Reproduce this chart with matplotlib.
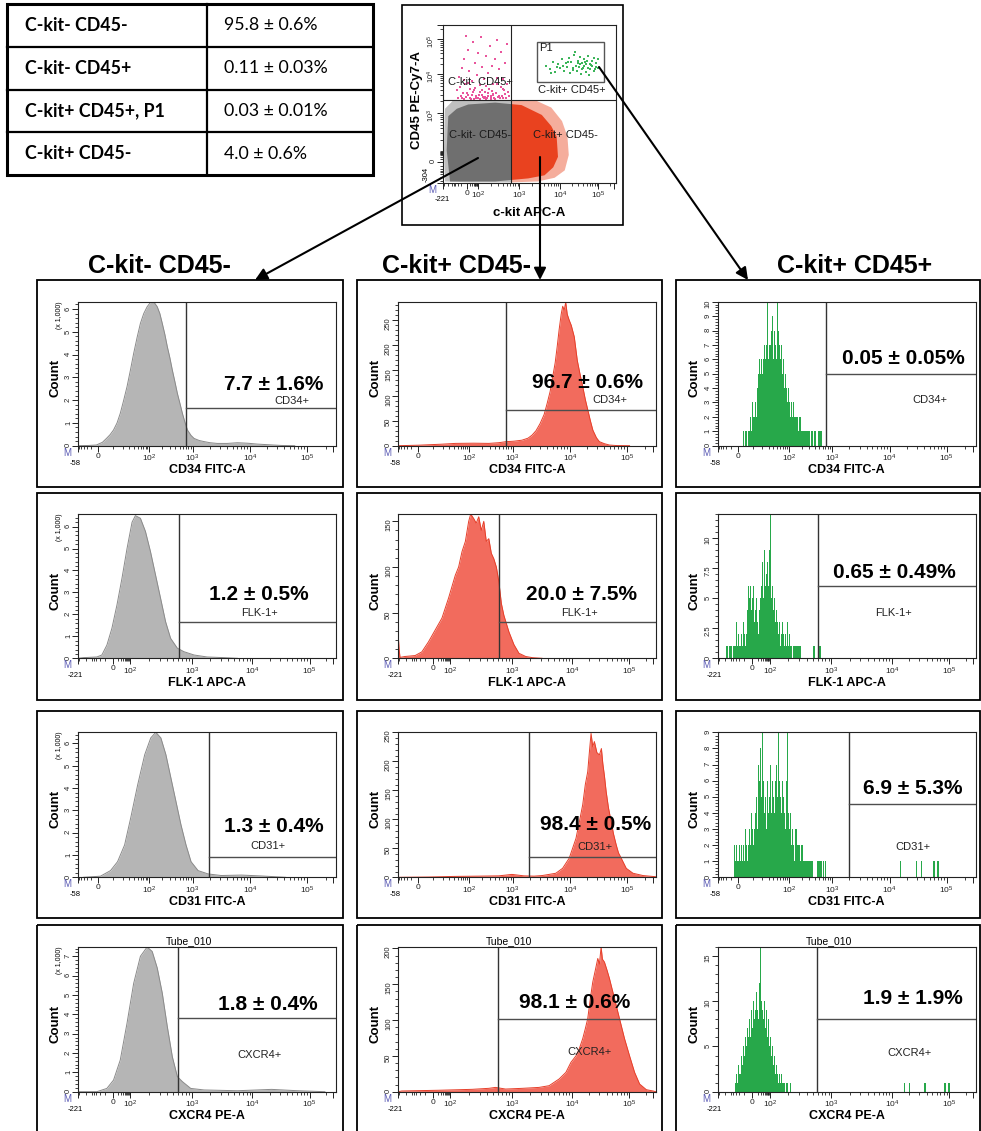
import numpy as np
import matplotlib
matplotlib.use("Agg")
import matplotlib.pyplot as plt
import matplotlib.transforms as mtransforms
from matplotlib.patches import Rectangle, Polygon, FancyArrowPatch
from matplotlib.ticker import MultipleLocator, FormatStrFormatter

plt.rcParams["font.family"] = ["Liberation Sans", "DejaVu Sans"]
plt.rcParams["mathtext.fontset"] = "custom"
plt.rcParams["mathtext.rm"] = "Liberation Sans"
plt.rcParams["mathtext.it"] = "Liberation Sans:italic"
plt.rcParams["mathtext.bf"] = "Liberation Sans:bold"

W, H = 981, 1131

# ---------------- dados ----------------
# Tabela de frequências das populações
tab_rotulos = ["C-kit- CD45-", "C-kit- CD45+", "C-kit+ CD45+, P1", "C-kit+ CD45-"]
tab_valores = ["95.8 ± 0.6%", "0.11 ± 0.03%", "0.03 ± 0.01%", "4.0 ± 0.6%"]

# Escalas biexponenciais: valor de fluorescência -> canal de exibição (0-256)
ESC_58 = {"v": [-58, 0, 1e2, 1e3, 1e4, 1e5, 262144],
          "c": [0, 20, 70.5, 113.6, 170.6, 227.2, 253],
          "neg": [-50, -40, -30, -20, -10], "min": "-58"}
ESC_221 = {"v": [-221, 0, 1e2, 1e3, 1e4, 1e5, 262144],
           "c": [0, 34.5, 51.6, 112.8, 173, 229.8, 253],
           "neg": [-200, -100, -50, -40, -30, -20, -10], "min": "-221"}
ESC_304 = {"v": [-304, 0, 1e2, 1e3, 1e4, 1e5, 262144],
           "c": [0, 34, 51, 113, 176, 233, 256],
           "neg": [-200, -100, -50, -40, -30, -20, -10], "min": "-304"}

# Dot plot c-kit x CD45 (em canais)
nuvem_halo_x = [1, 2.5, 15, 40, 70, 100, 130, 160, 176, 184, 186, 180, 165, 140, 100, 40, 2.5]
nuvem_halo_y = [53, 120, 134, 140, 141, 141, 137, 122, 100, 75, 45, 20, 8, 2, 0.5, 0.5, 2]
nuvem_nucleo_x = [5, 7.4, 20, 37, 77, 116, 146, 160, 168, 170, 163, 150, 126, 77, 10]
nuvem_nucleo_y = [53, 108, 120, 127, 130, 126, 110, 92, 75, 42, 25, 12, 7, 2, 2]
rosa_x = [20, 24, 27, 30, 32, 35, 36, 38, 40, 42, 44, 45, 47, 48, 50, 52, 53, 55, 56, 58,
          59, 60, 62, 63, 65, 66, 68, 69, 70, 72, 73, 75, 76, 78, 79, 80, 82, 83, 85, 86,
          88, 89, 91, 92, 94, 95, 97, 33, 28, 61, 74, 57, 46, 67, 84, 71, 51, 43, 39, 90,
          22, 26, 29, 31, 34, 37, 41, 44, 49, 54, 58, 62, 64, 67, 70, 73, 77, 81, 87, 93,
          25, 36, 47, 55, 63, 72, 80, 88, 96, 30]
rosa_y = [150, 172, 138, 200, 160, 145, 215, 182, 137, 165, 228, 150, 195, 140, 175, 210, 143, 158, 236, 188,
          139, 168, 147, 205, 137, 178, 152, 222, 141, 190, 160, 138, 200, 146, 170, 232, 140, 185, 155, 212,
          138, 168, 195, 144, 160, 225, 140, 238, 186, 137, 144, 150, 136, 140, 137, 136, 138, 142, 152, 150,
          137, 141, 146, 136, 139, 143, 136, 147, 138, 136, 143, 139, 136, 145, 137, 142, 136, 139, 141, 137,
          156, 162, 153, 148, 157, 149, 161, 152, 147, 166]
p1_x = [152, 158, 162, 166, 170, 173, 176, 179, 182, 184, 186, 188, 190, 192, 194, 196, 198, 200, 201, 203,
        205, 206, 208, 209, 211, 212, 214, 215, 217, 218, 220, 221, 223, 224, 226, 227, 229, 230, 204, 195,
        185, 178, 168, 160, 216, 199, 207, 213, 219, 225, 210, 202, 193]
p1_y = [190, 185, 196, 180, 192, 186, 200, 182, 194, 188, 203, 178, 196, 186, 207, 190, 182, 198, 188, 204,
        184, 195, 190, 200, 180, 193, 186, 206, 192, 184, 198, 189, 203, 182, 195, 188, 200, 186, 176, 212,
        196, 190, 188, 178, 175, 194, 187, 197, 191, 185, 196, 192, 183]
quad_x, quad_y = 100.4, 134
p1_caixa = (138.4, 164, 238.7, 229)

# Histogramas (canal, contagem); cinza em milhares de eventos
cd34_cinza_c = [0, 10, 18, 24, 28, 31.5, 35, 38.5, 41.7, 45, 48.4, 51.7, 55, 58.4, 61.7, 65, 68.4, 71, 73.3, 75.5,
                78.4, 81, 83.4, 86, 88.4, 91, 93.4, 96, 98.4, 101, 103.4, 106, 108.4, 112, 115, 120, 125, 131, 138, 148,
                158, 168, 178, 190, 202, 215]
cd34_cinza_n = [0, 0.01, 0.03, 0.15, 0.32, 0.48, 0.69, 1.0, 1.42, 1.98, 2.59, 3.3, 4.05, 4.75, 5.37, 5.8, 6.1, 6.25, 6.32, 6.28,
                6.1, 5.8, 5.37, 4.88, 4.35, 3.85, 3.32, 2.8, 2.3, 1.85, 1.42, 1.02, 0.69, 0.45, 0.32, 0.23, 0.18, 0.13, 0.10, 0.10,
                0.13, 0.11, 0.07, 0.04, 0.01, 0]
cd34_verm_c = [0, 20, 43, 57, 75, 90, 100, 107, 115, 123, 129, 133, 137, 141, 145, 148, 151, 153, 156, 158,
               160, 162, 163.5, 165, 166.5, 168, 170, 172, 175, 178, 181, 183.5, 186, 188.5, 191, 193.5, 197, 200, 205, 210,
               217, 230]
cd34_verm_n = [0, 1, 3, 4.6, 5, 4.6, 6, 8, 9, 11, 15, 21, 30, 44, 62, 84, 108, 131, 165, 197,
               232, 262, 278, 270, 286, 262, 250, 240, 217, 170, 140, 117, 92, 71, 50, 31, 16, 8, 4, 1.3,
               0.3, 0]
cd34_verde_ini = 25
cd34_verde_n = [1, 0, 1, 1, 0, 1, 1,
                2, 1, 3, 2, 2, 3, 2,
                4, 5, 6, 5, 6, 5,
                6, 7, 6, 7, 10, 6, 7,
                7, 8, 9, 6, 8, 7, 6, 10,
                8, 7, 6, 7, 5, 6, 4, 5,
                4, 3, 4, 3, 2, 3, 2, 3, 2,
                1, 2, 1, 1, 2, 1, 1, 0, 1, 1,
                0, 1, 0, 1, 0, 0, 1, 0, 0, 1, 0, 0, 0, 1, 0, 1]

flk_cinza_c = [0, 5, 18.4, 23.4, 28.4, 33.4, 38.4, 43.4, 48.4, 53.4, 56.7, 61.7, 66.7, 71.7, 76.7, 81.7, 86.7, 91.7,
               98.4, 105, 115, 128, 145, 158]
flk_cinza_n = [0, 0.03, 0.06, 0.15, 0.6, 1.37, 2.43, 3.65, 5.0, 6.2, 6.5, 6.38, 5.78, 4.86, 3.8, 2.74, 1.67, 0.91,
               0.46, 0.3, 0.15, 0.06, 0.03, 0]
flk_verm_c = [0, 0.8, 1.7, 6.7, 16.7, 23.4, 30, 36.7, 43.4, 50, 56.7, 60, 63.4, 66.7, 70, 72, 75, 77.5, 80, 82.5,
              85, 87.5, 90, 92.5, 95, 97.5, 100, 102.5, 105, 110, 115, 120, 126.7, 133.4, 143]
flk_verm_n = [24, 10, 1, 2, 3, 7, 18, 31, 44, 66, 91, 100, 117, 128, 150, 158, 153, 148, 155, 140,
              150, 128, 131, 115, 109, 100, 84, 60, 47, 29, 15, 5.5, 2, 0.7, 0]
flk_verde_ini = 8
flk_verde_n = [1, 1, 0, 1, 1, 1, 0, 1,
               1, 1, 3, 1, 2, 1, 1,
               2, 1, 3, 2, 1, 2,
               4, 6, 5, 6, 4, 5, 6,
               3, 4, 5, 3, 2, 4, 5,
               6, 8, 5, 9, 6, 7, 8, 6,
               9, 12, 5, 6, 4, 5, 3,
               4, 3, 2, 3, 1, 2, 3,
               2, 1, 2, 1, 3, 1, 2, 1,
               1, 0, 1, 1, 0, 1, 0, 1, 1, 0,
               0, 0, 0, 0, 0, 0, 0, 0, 0, 0, 0, 0, 1, 0, 0, 0, 0, 0, 1]

cd31_cinza_c = [5, 22, 32, 39, 46, 52, 59, 66, 72, 77, 82, 87, 92, 97, 102, 107, 112, 119, 129, 142, 162, 182, 206]
cd31_cinza_n = [0, 0.05, 0.3, 0.7, 1.45, 2.65, 4.15, 5.5, 6.25, 6.5, 6.25, 5.5, 4.45, 3.4, 2.35, 1.45, 0.7, 0.3,
                0.15, 0.08, 0.1, 0.06, 0]
cd31_verm_c = [0, 30, 55, 80, 100, 113, 125, 135, 143, 150, 156.7, 163.4, 170, 176.7, 180, 183.4, 186, 188.4, 190, 191.7,
               193.4, 195, 197.5, 200, 202, 203.4, 205, 206.7, 209, 211.7, 214, 216.7, 219, 221.7, 226.7, 233.4, 243.4, 256]
cd31_verm_n = [0, 0.5, 1.5, 2, 2.5, 5, 2.5, 2, 3, 5, 7, 15.5, 33, 67, 95, 125, 160, 182, 215, 248,
               225, 234, 215, 211, 222, 196, 175, 148, 120, 96, 75, 56, 42, 33, 15.5, 7, 3, 1]
cd31_verde_ini = 16
cd31_verde_n = [2, 1, 2, 1, 1, 2, 1,
                2, 1, 2, 1, 3, 2, 1,
                2, 3, 2, 4, 3, 2, 3,
                4, 5, 3, 7, 6, 8, 5,
                9, 6, 4, 5, 3, 6, 4,
                5, 7, 4, 6, 5, 4, 6,
                7, 5, 9, 6, 5, 4, 6,
                5, 4, 3, 6, 9, 4, 3,
                4, 2, 3, 2, 1, 3, 2,
                1, 2, 1, 1, 2, 1, 1,
                1, 0, 1, 1, 0, 1, 0, 1,
                0, 0, 0, 0, 0, 1, 0, 1, 1, 0, 1, 0, 1, 0]
cd31_verde_extra_c = [181, 197, 202, 214, 218]
cd31_verde_extra_n = [1, 1, 1, 1, 1]

cxcr4_cinza_c = [0, 18.4, 28.4, 35, 41.7, 48.4, 55, 61.7, 68.4, 73.4, 78.4, 83.4, 88.4, 93.4, 98.4, 103.4, 111.7,
                 125, 158, 192, 218, 245]
cxcr4_cinza_n = [0, 0, 0.17, 0.6, 1.64, 3.54, 5.6, 7.0, 7.48, 7.25, 6.4, 5.1, 3.37, 1.81, 0.78, 0.52, 0.17,
                 0.09, 0.05, 0.12, 0.05, 0]
cxcr4_verm_c = [0, 3.4, 40, 73.4, 90, 96.7, 106.7, 123.4, 140, 150, 160, 166.7, 171.7, 176.7, 180, 183.4, 186, 188.4,
                191, 193.4, 196, 198.4, 200, 201.7, 203, 205, 207.5, 210, 215, 220, 225, 230, 235, 240, 246.7, 253.4, 256]
cxcr4_verm_n = [0, 1, 2, 3.3, 4.7, 6, 3.7, 4.7, 6, 8.4, 17.8, 27, 41, 50, 60, 74, 88, 102,
                130, 153, 170, 186, 178, 202, 185, 181, 170, 158, 130, 102, 74, 50, 27, 10.7, 2.8, 1, 0]
cxcr4_verde_ini = 17
cxcr4_verde_n = [1, 2, 1, 3, 2, 2, 4,
                 3, 5, 4, 6, 5, 7, 6,
                 8, 6, 9, 7, 10, 8, 9,
                 11, 9, 8, 12, 16, 10, 9,
                 8, 10, 7, 9, 6, 8, 5,
                 6, 4, 5, 3, 4, 2, 3,
                 2, 1, 2, 1, 2, 1, 1,
                 1, 0, 1, 1, 0, 0, 1]
cxcr4_verde_extra_c = [185, 190, 205, 225, 229]
cxcr4_verde_extra_n = [1, 1, 1, 1, 1]

# Gates (canal do limite, altura da barra) por linha e coluna
gate_x = [107, 100, 130, 99]
gate_y = [[1.64, 72, 5], [1.64, 39.4, 6], [0.9, 34.5, 4.54], [3.8, 101, 8]]

pct_textos = [["7.7 ± 1.6%", "96.7 ± 0.6%", "0.05 ± 0.05%"],
              ["1.2 ± 0.5%", "20.0 ± 7.5%", "0.65 ± 0.49%"],
              ["1.3 ± 0.4%", "98.4 ± 0.5%", "6.9 ± 5.3%"],
              ["1.8 ± 0.4%", "98.1 ± 0.6%", "1.9 ± 1.9%"]]
marcadores = ["CD34+", "FLK-1+", "CD31+", "CXCR4+"]
canais = ["CD34 FITC-A", "FLK-1 APC-A", "CD31 FITC-A", "CXCR4 PE-A"]
populacoes = ["C-kit- CD45-", "C-kit+ CD45-", "C-kit+ CD45+"]

# ---------------- layout (pixels) ----------------
COLS_AX = [(78.3, 336.0), (398.3, 655.7), (717.7, 975.7)]
ROWS_AX = [(301.7, 445.7), (514.3, 658.3), (732.3, 877.3), (947.0, 1091.7)]
COLS_BOX = [(37.3, 343.3), (356.7, 662.3), (676.0, 979.5)]
ROWS_BOX = [(280.0, 487.3), (493.3, 700.0), (711.0, 918.3), (925.0, 1145.0)]
ESCALAS = [ESC_58, ESC_221, ESC_58, ESC_221]
YMAX = [[6.32, 287, 10], [6.56, 157.7, 12], [6.5, 250, 9], [7.48, 202, 16]]
PASSO = [[1, 50, 1], [1, 50, 2.5], [1, 50, 1], [1, 50, 5]]
PASSO_MENOR = [[0.2, 10, 0.2], [0.2, 10, 0.5], [0.2, 10, 0.2], [0.2, 10, 1]]
PCT_POS = [[(274, 385), (587, 382), (903, 358)],
           [(259, 595), (581, 594), (894, 573)],
           [(274, 827), (596, 824), (913, 789)],
           [(268, 1005), (575, 1002), (913, 998)]]
SUB_POS = [[(292, 401), (610, 400), (930, 400)],
           [(259, 613), (579, 613), (894, 613)],
           [(268, 846), (595, 847), (913, 847)],
           [(260, 1055), (590, 1052), (909, 1053)]]

CINZA = ("#b5b5b5", "#8a8a8a")
VERMELHO = ("#f26b5d", "#e63f2a")
VERDE = "#27a84a"

fig = plt.figure(figsize=(W / 100, H / 100), dpi=100)


def eixo_px(x0, y0, x1, y1):
    return fig.add_axes([x0 / W, 1 - y1 / H, (x1 - x0) / W, (y1 - y0) / H])


def canal(valores, esc):
    v = np.arcsinh(np.asarray(valores, dtype=float) / 10)
    return np.interp(v, np.arcsinh(np.asarray(esc["v"], dtype=float) / 10), esc["c"])


def desloca(ax, base, dx, dy):
    return mtransforms.offset_copy(base, fig=fig, x=dx, y=dy, units="dots")


def marca_eixo_log(ax, esc, qual="x", decadas=(2, 3, 4, 5)):
    maj_v = [esc["v"][0], 0] + [10.0 ** k for k in decadas] + [262144]
    maj_l = ["", "0"] + [rf"$10^{{{k}}}$" for k in decadas] + [""]
    men_v = esc["neg"] + list(range(10, 100, 10)) + [m * 10.0 ** k for k in (2, 3, 4) for m in range(2, 10)] + [2e5]
    if 2 not in decadas:
        men_v.append(100)
    eixo = ax.xaxis if qual == "x" else ax.yaxis
    eixo.set_ticks(canal(maj_v, esc))
    eixo.set_ticklabels(maj_l)
    eixo.set_ticks(canal(men_v, esc), minor=True)


def estilo_eixo(ax):
    for s in ax.spines.values():
        s.set_linewidth(0.8)
        s.set_color("#222222")
    ax.tick_params(which="major", direction="out", length=4, width=0.7, labelsize=6, pad=1, colors="#222222")
    ax.tick_params(which="minor", direction="out", length=2, width=0.6, colors="#222222")
    ax.tick_params(axis="y", labelrotation=90, labelsize=5.5, pad=0.5)
    ax.text(0, 0, "M", transform=desloca(ax, ax.transAxes, -11, -7), fontsize=7,
            color="#5a5ab4", ha="center", va="center")


def histograma(ax, tipo, c, n):
    if tipo == "verde":
        ax.bar(c, n, width=1.2, align="edge", color=VERDE, linewidth=0)
    else:
        face, borda = tipo
        ax.fill_between(c, n, color=face, linewidth=0)
        ax.plot(c, n, color=borda, lw=0.7)


dados_hist = [
    [(CINZA, cd34_cinza_c, cd34_cinza_n), (VERMELHO, cd34_verm_c, cd34_verm_n),
     ("verde", cd34_verde_ini + np.arange(len(cd34_verde_n)), cd34_verde_n)],
    [(CINZA, flk_cinza_c, flk_cinza_n), (VERMELHO, flk_verm_c, flk_verm_n),
     ("verde", flk_verde_ini + np.arange(len(flk_verde_n)), flk_verde_n)],
    [(CINZA, cd31_cinza_c, cd31_cinza_n), (VERMELHO, cd31_verm_c, cd31_verm_n),
     ("verde", np.r_[cd31_verde_ini + np.arange(len(cd31_verde_n)), cd31_verde_extra_c],
      cd31_verde_n + cd31_verde_extra_n)],
    [(CINZA, cxcr4_cinza_c, cxcr4_cinza_n), (VERMELHO, cxcr4_verm_c, cxcr4_verm_n),
     ("verde", np.r_[cxcr4_verde_ini + np.arange(len(cxcr4_verde_n)), cxcr4_verde_extra_c],
      cxcr4_verde_n + cxcr4_verde_extra_n)],
]

# ---------------- histogramas ----------------
for i in range(4):
    esc = ESCALAS[i]
    for j in range(3):
        ax = eixo_px(COLS_AX[j][0], ROWS_AX[i][0], COLS_AX[j][1], ROWS_AX[i][1])
        tipo, c, n = dados_hist[i][j]
        histograma(ax, tipo, c, n)
        ax.set_xlim(0, 256)
        ax.set_ylim(0, YMAX[i][j])
        # gate do marcador
        ax.axvline(gate_x[i], color="#333333", lw=1.0)
        ax.plot([gate_x[i], 256], [gate_y[i][j]] * 2, color="#4d4d4d", lw=1.0)
        marca_eixo_log(ax, esc, "x")
        ax.yaxis.set_major_locator(MultipleLocator(PASSO[i][j]))
        ax.yaxis.set_minor_locator(MultipleLocator(PASSO_MENOR[i][j]))
        ax.yaxis.set_major_formatter(FormatStrFormatter("%g"))
        estilo_eixo(ax)
        ax.text(0, 0, esc["min"], transform=desloca(ax, ax.get_xaxis_transform(), -3, -17.5),
                fontsize=5.5, ha="center", va="center")
        ax.text(0.5, 0, canais[i], transform=desloca(ax, ax.transAxes, 0, -24.5),
                fontsize=9, fontweight="bold", ha="center", va="center")
        ax.text(0, 0.47, "Count", transform=desloca(ax, ax.transAxes, -23, 0), rotation=90,
                fontsize=9.5, fontweight="bold", ha="center", va="center")
        if j == 0:
            ax.text(0, 1, "(x 1,000)", transform=desloca(ax, ax.transAxes, -19, -13), rotation=90,
                    fontsize=5, ha="center", va="center")
        if i == 3:
            ax.text(0.43, 1, "Tube_010", transform=desloca(ax, ax.transAxes, 0, 6),
                    fontsize=7.5, ha="center", va="center")

# ---------------- dot plot c-kit x CD45 ----------------
axs = eixo_px(443.3, 25.0, 616.0, 182.7)
axs.set_xlim(0, 256)
axs.set_ylim(0, 256)
clip_cinza = Rectangle((0, 0), quad_x, quad_y, transform=axs.transData)
clip_verm = Rectangle((quad_x, 0), 256 - quad_x, quad_y, transform=axs.transData)
for cor_halo, cor_nucleo, clip in [("#8c8c8c", "#6f6f6f", clip_cinza), ("#ee6a4c", "#e9421f", clip_verm)]:
    halo = Polygon(np.c_[nuvem_halo_x, nuvem_halo_y], closed=True, facecolor=cor_halo, edgecolor="none", alpha=0.55)
    nucleo = Polygon(np.c_[nuvem_nucleo_x, nuvem_nucleo_y], closed=True, facecolor=cor_nucleo, edgecolor="none")
    for p in (halo, nucleo):
        axs.add_patch(p)
        p.set_clip_path(clip)
axs.scatter(rosa_x, rosa_y, s=2.5, marker="s", color="#e9559c", linewidths=0)
axs.scatter(p1_x, p1_y, s=2.5, marker="s", color="#3cb55a", linewidths=0)
axs.axvline(quad_x, color="#222222", lw=0.8)
axs.axhline(quad_y, color="#222222", lw=0.8)
axs.add_patch(Rectangle((p1_caixa[0], p1_caixa[1]), p1_caixa[2] - p1_caixa[0], p1_caixa[3] - p1_caixa[1],
                        fill=False, edgecolor="#555555", lw=1.0))
marca_eixo_log(axs, ESC_221, "x")
marca_eixo_log(axs, ESC_304, "y", decadas=(3, 4, 5))
estilo_eixo(axs)
axs.text(0, 0, "-221", transform=desloca(axs, axs.get_xaxis_transform(), -1, -17),
         fontsize=5.5, ha="center", va="center")
axs.text(0, 0, "-304", transform=desloca(axs, axs.get_yaxis_transform(), -17, 8), rotation=90,
         fontsize=5.5, ha="center", va="center")
axs.text(0.5, 0, "c-kit APC-A", transform=desloca(axs, axs.transAxes, 0, -30),
         fontsize=9.5, fontweight="bold", ha="center", va="center")
axs.text(0, 0.524, "CD45 PE-Cy7-A", transform=desloca(axs, axs.transAxes, -26.5, 0), rotation=90,
         fontsize=9.5, fontweight="bold", ha="center", va="center")

# ---------------- camada de anotações (coordenadas em pixels) ----------------
ov = fig.add_axes([0, 0, 1, 1])
ov.set_xlim(0, W)
ov.set_ylim(H, 0)
ov.axis("off")
ov.patch.set_alpha(0)

# tabela
ov.add_patch(Rectangle((7, 4), 366, 171, fill=False, lw=2.2, edgecolor="black"))
ov.plot([206.7, 206.7], [4, 175], color="black", lw=1.6)
for k in range(1, 4):
    yk = 4 + 171 * k / 4
    ov.plot([7, 373], [yk, yk], color="black", lw=1.6)
for k, (rot, val) in enumerate(zip(tab_rotulos, tab_valores)):
    yc = 4 + 171 * (k + 0.5) / 4
    ov.text(25, yc, rot, fontsize=12.8, fontweight="bold", family="Lato", va="center", ha="left")
    ov.text(224, yc, val, fontsize=12.8, family="Lato", va="center", ha="left")

# moldura do dot plot e rótulos dos quadrantes
ov.add_patch(Rectangle((401.7, 5), 221.6, 220, fill=False, lw=1.2, edgecolor="black"))
for txt, x, y in [("C-kit- CD45+", 480, 82), ("C-kit+ CD45+", 572, 90), ("C-kit- CD45-", 480, 135),
                  ("C-kit+ CD45-", 565, 135), ("P1", 546, 48)]:
    ov.text(x, y, txt, fontsize=8, color="#1a1a1a", ha="center", va="center")

# títulos das colunas
for txt, x in zip(populacoes, [159, 457, 855]):
    ov.text(x, 266, txt, fontsize=18, fontweight="bold", ha="center", va="center")

# setas do dot plot para cada população
for (x0, y0), (x1, y1) in [((478, 158), (255, 280)), ((540, 157), (540, 280)), ((599, 67), (748, 280))]:
    ov.add_patch(FancyArrowPatch((x0, y0), (x1, y1), arrowstyle="-|>", mutation_scale=18, lw=1.5,
                                 color="black", shrinkA=0, shrinkB=0))

# molduras e textos dos histogramas
for i in range(4):
    for j in range(3):
        x0, x1 = COLS_BOX[j]
        y0, y1 = ROWS_BOX[i]
        ov.add_patch(Rectangle((x0, y0), x1 - x0, y1 - y0, fill=False, lw=1.3, edgecolor="black"))
        px, py = PCT_POS[i][j]
        ov.text(px, py, pct_textos[i][j], fontsize=15, fontweight="bold", ha="center", va="center")
        sx, sy = SUB_POS[i][j]
        ov.text(sx, sy, marcadores[i], fontsize=8, color="#222222", ha="center", va="center")

fig.savefig("out.png", dpi=100)
